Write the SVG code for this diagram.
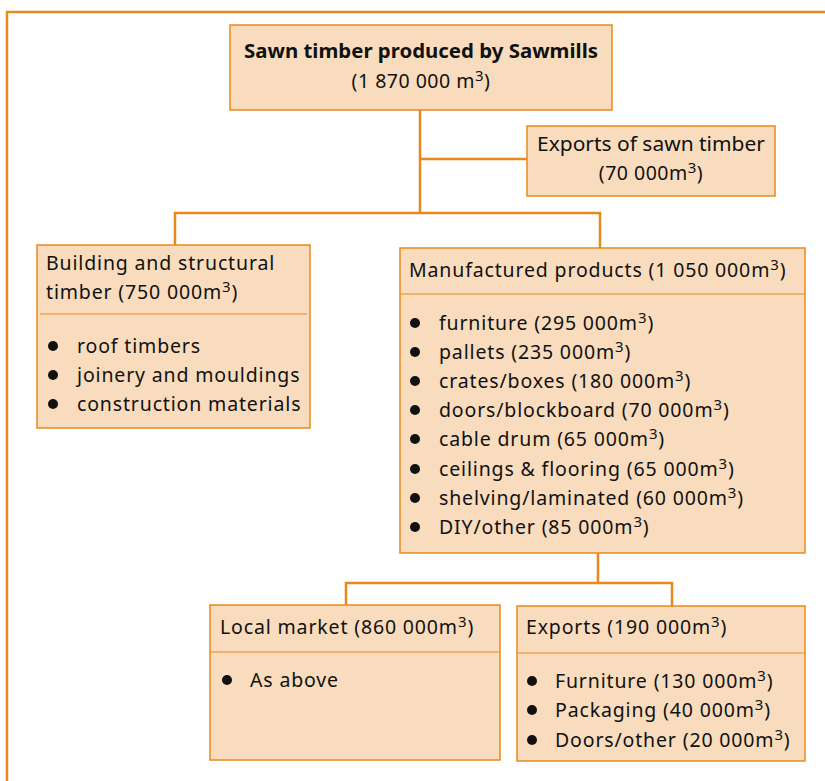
<svg xmlns="http://www.w3.org/2000/svg" width="825" height="781" viewBox="0 0 825 781">
<style>
.box{fill:#F8DCBD;stroke:#E8891E;stroke-width:1.5}
.div{stroke:#E8891E;stroke-width:1.2}
.con{fill:none;stroke:#E8891E;stroke-width:2.5}
text{font-family:"Noto Sans","Open Sans",sans-serif;font-size:19.5px;fill:#111;letter-spacing:0.85px}
.c{letter-spacing:0.5px}
.b{font-weight:bold;letter-spacing:0}
.sup{font-size:15px}
.dot{fill:#111}
</style>
<rect width="825" height="781" fill="#fff"/>
<path class="con" d="M7 781 V12 H825"/>
<g id="connectors">
<path class="con" d="M420 110 V213 M420 159 H527 M175 245 V213 H600 V248 M598 553 V583 M346 605 V583 H672 V606"/>
</g>
<g id="n_sawmills">
<rect class="box" x="230" y="25" width="382" height="85"/>
<text class="b" x="421" y="58" text-anchor="middle" textLength="354" lengthAdjust="spacingAndGlyphs">Sawn timber produced by Sawmills</text>
<text class="c" x="421" y="88" text-anchor="middle">(1 870 000 m<tspan class="sup" dy="-7">3</tspan><tspan dy="7">)</tspan></text>
</g>
<g id="n_exports_sawn">
<rect class="box" x="527" y="126" width="248" height="70"/>
<text x="651" y="151" text-anchor="middle" textLength="228" lengthAdjust="spacingAndGlyphs" style="letter-spacing:0">Exports of sawn timber</text>
<text class="c" x="651" y="180" text-anchor="middle">(70 000m<tspan class="sup" dy="-7">3</tspan><tspan dy="7">)</tspan></text>
</g>
<g id="n_building">
<rect class="box" x="37" y="245" width="273" height="183"/>
<line class="div" x1="40" y1="314" x2="307" y2="314"/>
<text x="46" y="270">Building and structural</text>
<text x="46" y="299">timber (750 000m<tspan class="sup" dy="-7">3</tspan><tspan dy="7">)</tspan></text>
<circle class="dot" cx="53" cy="346" r="5"/><text x="77" y="353">roof timbers</text>
<circle class="dot" cx="53" cy="375" r="5"/><text x="77" y="382">joinery and mouldings</text>
<circle class="dot" cx="53" cy="404" r="5"/><text x="77" y="411">construction materials</text>
</g>
<g id="n_manufactured">
<rect class="box" x="400" y="248" width="405" height="305"/>
<line class="div" x1="400" y1="294" x2="805" y2="294"/>
<text x="409" y="277">Manufactured products (1 050 000m<tspan class="sup" dy="-7">3</tspan><tspan dy="7">)</tspan></text>
<circle class="dot" cx="415" cy="323" r="5"/><text x="439" y="330">furniture (295 000m<tspan class="sup" dy="-7">3</tspan><tspan dy="7">)</tspan></text>
<circle class="dot" cx="415" cy="352" r="5"/><text x="439" y="359">pallets (235 000m<tspan class="sup" dy="-7">3</tspan><tspan dy="7">)</tspan></text>
<circle class="dot" cx="415" cy="381" r="5"/><text x="439" y="388">crates/boxes (180 000m<tspan class="sup" dy="-7">3</tspan><tspan dy="7">)</tspan></text>
<circle class="dot" cx="415" cy="410" r="5"/><text x="439" y="417">doors/blockboard (70 000m<tspan class="sup" dy="-7">3</tspan><tspan dy="7">)</tspan></text>
<circle class="dot" cx="415" cy="439" r="5"/><text x="439" y="446">cable drum (65 000m<tspan class="sup" dy="-7">3</tspan><tspan dy="7">)</tspan></text>
<circle class="dot" cx="415" cy="469" r="5"/><text x="439" y="476">ceilings &amp; flooring (65 000m<tspan class="sup" dy="-7">3</tspan><tspan dy="7">)</tspan></text>
<circle class="dot" cx="415" cy="498" r="5"/><text x="439" y="505">shelving/laminated (60 000m<tspan class="sup" dy="-7">3</tspan><tspan dy="7">)</tspan></text>
<circle class="dot" cx="415" cy="527" r="5"/><text x="439" y="534">DIY/other (85 000m<tspan class="sup" dy="-7">3</tspan><tspan dy="7">)</tspan></text>
</g>
<g id="n_local">
<rect class="box" x="210" y="605" width="290" height="155"/>
<line class="div" x1="210" y1="652" x2="500" y2="652"/>
<text x="220" y="634">Local market (860 000m<tspan class="sup" dy="-7">3</tspan><tspan dy="7">)</tspan></text>
<circle class="dot" cx="227" cy="680" r="5"/><text x="250" y="687">As above</text>
</g>
<g id="n_exports">
<rect class="box" x="517" y="606" width="288" height="155"/>
<line class="div" x1="517" y1="653" x2="805" y2="653"/>
<text x="526" y="634">Exports (190 000m<tspan class="sup" dy="-7">3</tspan><tspan dy="7">)</tspan></text>
<circle class="dot" cx="532" cy="681" r="5"/><text x="555" y="688">Furniture (130 000m<tspan class="sup" dy="-7">3</tspan><tspan dy="7">)</tspan></text>
<circle class="dot" cx="532" cy="710" r="5"/><text x="555" y="717">Packaging (40 000m<tspan class="sup" dy="-7">3</tspan><tspan dy="7">)</tspan></text>
<circle class="dot" cx="532" cy="740" r="5"/><text x="555" y="747">Doors/other (20 000m<tspan class="sup" dy="-7">3</tspan><tspan dy="7">)</tspan></text>
</g>
</svg>
